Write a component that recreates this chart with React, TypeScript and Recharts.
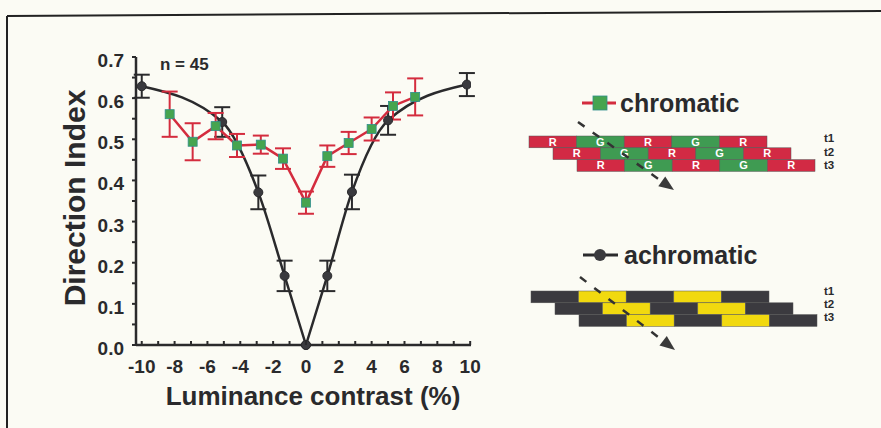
import React from "react";
import { LineChart, Line, XAxis, YAxis, ErrorBar } from "recharts";

// achromatic (black circles, smooth fit)
const achroX = [-10, -5.1, -2.9, -1.3, 0, 1.3, 2.8, 5.0, 9.8];
const achroY = [0.629, 0.542, 0.371, 0.168, 0, 0.168, 0.372, 0.546, 0.633];
const achroErr = [0.028, 0.036, 0.041, 0.037, 0, 0.037, 0.042, 0.035, 0.028];

// chromatic (green squares, red line)
const chromX = [-8.3, -6.9, -5.5, -4.2, -2.75, -1.4, 0, 1.3, 2.6, 4.0, 5.3, 6.65];
const chromY = [0.561, 0.494, 0.532, 0.485, 0.487, 0.453, 0.346, 0.459, 0.491, 0.525, 0.581, 0.603];
const chromErr = [0.055, 0.045, 0.032, 0.028, 0.022, 0.025, 0.027, 0.026, 0.027, 0.028, 0.033, 0.045];

const xTicks = [-10, -9, -8, -7, -6, -5, -4, -3, -2, -1, 0, 1, 2, 3, 4, 5, 6, 7, 8, 9, 10];
const yTicks = [0, 0.05, 0.1, 0.15, 0.2, 0.25, 0.3, 0.35, 0.4, 0.45, 0.5, 0.55, 0.6, 0.65, 0.7];

const chromaticRows = [
  ["R", "G", "R", "G", "R"],
  ["R", "G", "R", "G", "R"],
  ["R", "G", "R", "G", "R"],
];
const achromaticRows = [
  ["D", "Y", "D", "Y", "D"],
  ["D", "Y", "D", "Y", "D"],
  ["D", "Y", "D", "Y", "D"],
];
const rowLabels = ["t1", "t2", "t3"];

const FONT = "'Liberation Sans', Arial, sans-serif";
const INK = "#2a2a2c";
const RED = "#d42c3e";
const GREEN = "#46a44f";

const toRows = (xs: number[], ys: number[], es: number[]) =>
  xs.map((x, i) => ({ x, y: ys[i], err: es[i] }));

const achroAll = toRows(achroX, achroY, achroErr);
const achroLeft = achroAll.slice(0, 5);
const achroRight = achroAll.slice(4);
const chromData = toRows(chromX, chromY, chromErr);

const SquareDot = (props: any) => {
  const { cx, cy, index } = props;
  if (cx == null || cy == null) return null;
  return (
    <rect key={`sq-${index}`} x={cx - 4.5} y={cy - 4.5} width={9} height={9}
      fill={GREEN} stroke="#2f8f8c" strokeWidth={0.8} />
  );
};

const CircleDot = (props: any) => {
  const { cx, cy, index } = props;
  if (cx == null || cy == null) return null;
  return <circle key={`c-${index}`} cx={cx} cy={cy} r={4.5} fill="#3a3a3e" stroke={INK} strokeWidth={1} />;
};

const XTick = (props: any) => {
  const { x, y, payload } = props;
  const v = payload.value;
  const labelled = v % 2 === 0;
  return (
    <g>
      <line x1={x} x2={x} y1={y} y2={y - 4} stroke={INK} strokeWidth={2} />
      {labelled && (
        <text x={x} y={y + 28} textAnchor="middle" fontFamily={FONT} fontWeight="bold" fontSize={19} fill={INK}>
          {v}
        </text>
      )}
    </g>
  );
};

const YTick = (props: any) => {
  const { x, y, payload } = props;
  const v = payload.value;
  if (Math.round(v * 100) % 10 !== 0) return <g />;
  return (
    <text x={x} y={y + 10} textAnchor="end" fontFamily={FONT} fontWeight="bold" fontSize={19} fill={INK}>
      {v.toFixed(1)}
    </text>
  );
};

function Arrow({ x1, y1, x2, y2 }: { x1: number; y1: number; x2: number; y2: number }) {
  const dx = x2 - x1;
  const dy = y2 - y1;
  const len = Math.sqrt(dx * dx + dy * dy);
  const ux = dx / len;
  const uy = dy / len;
  const bx = x2 - ux * 15;
  const by = y2 - uy * 15;
  const px = -uy * 6;
  const py = ux * 6;
  return (
    <g>
      <line x1={x1} y1={y1} x2={bx} y2={by} stroke="#333" strokeWidth={2.5} strokeDasharray="8 10" />
      <polygon points={`${x2},${y2} ${bx + px},${by + py} ${bx - px},${by - py}`} fill="#3a3a3a" />
    </g>
  );
}

function Stripes({ rows, left, top, colors, letters, labelTop, labelStep }: any) {
  const segW = 47.6;
  const rowH = 11.8;
  return (
    <g>
      {rows.map((row: string[], i: number) => {
        const x0 = left + i * 24;
        const y0 = top + i * rowH;
        return (
          <g key={i}>
            {row.map((c, j) => (
              <g key={j}>
                <rect x={x0 + j * segW} y={y0} width={segW} height={rowH} fill={colors[c]} stroke="#555" strokeWidth={0.5} />
                {letters && (
                  <text x={x0 + j * segW + segW / 2} y={y0 + 9.5} textAnchor="middle" fontFamily={FONT}
                    fontWeight="bold" fontSize={11} fill="#fff">
                    {c}
                  </text>
                )}
              </g>
            ))}
          </g>
        );
      })}
      {rowLabels.map((t, i) => (
        <text key={t} x={824} y={labelTop + i * labelStep} fontFamily={FONT} fontWeight="bold" fontSize={11.5} fill={INK}>
          {t}
        </text>
      ))}
    </g>
  );
}

export default function App() {
  return (
    <div style={{ position: "absolute", left: 0, top: 0, width: 881, height: 428, background: "#fbfbf4", overflow: "hidden" }}>
      <div style={{ position: "absolute", left: 0, top: 0 }}>
        <LineChart width={490} height={428} margin={{ top: 57, right: 19, left: 0, bottom: 53 }}>
          <XAxis
            type="number"
            dataKey="x"
            domain={[-10.35, 10.05]}
            ticks={xTicks}
            interval={0}
            allowDataOverflow
            height={30}
            tickSize={0}
            tickMargin={0}
            tickLine={false}
            tick={<XTick />}
            axisLine={{ stroke: INK, strokeWidth: 2.5 }}
          />
          <YAxis
            type="number"
            dataKey="y"
            domain={[0, 0.7]}
            ticks={yTicks}
            interval={0}
            width={136}
            tickSize={4}
            tickMargin={8}
            tickLine={{ stroke: INK, strokeWidth: 2 }}
            tick={<YTick />}
            axisLine={{ stroke: INK, strokeWidth: 2.5 }}
          />
          <Line data={achroLeft} dataKey="y" type="monotone" stroke={INK} strokeWidth={2.5}
            dot={<CircleDot />} activeDot={false} isAnimationActive={false}>
            <ErrorBar dataKey="err" direction="y" width={8} stroke={INK} strokeWidth={2} />
          </Line>
          <Line data={achroRight} dataKey="y" type="monotone" stroke={INK} strokeWidth={2.5}
            dot={<CircleDot />} activeDot={false} isAnimationActive={false}>
            <ErrorBar dataKey="err" direction="y" width={8} stroke={INK} strokeWidth={2} />
          </Line>
          <Line data={chromData} dataKey="y" type="linear" stroke={RED} strokeWidth={2.5}
            dot={<SquareDot />} activeDot={false} isAnimationActive={false}>
            <ErrorBar dataKey="err" direction="y" width={8} stroke={RED} strokeWidth={2} />
          </Line>
        </LineChart>
      </div>
      <svg width={881} height={428} style={{ position: "absolute", left: 0, top: 0, pointerEvents: "none" }}>
        {/* frame */}
        <line x1={7} y1={16} x2={881} y2={11} stroke="#222" strokeWidth={2} />
        <line x1={7} y1={16} x2={7} y2={428} stroke="#222" strokeWidth={2} />

        <text x={160} y={70} fontFamily={FONT} fontWeight="bold" fontSize={17} fill={INK}>n = 45</text>
        <text x={313} y={405} textAnchor="middle" fontFamily={FONT} fontWeight="bold" fontSize={26} fill={INK}>
          Luminance contrast (%)
        </text>
        <text x={85} y={198} textAnchor="middle" transform="rotate(-90 85 198)" fontFamily={FONT} fontWeight="bold"
          fontSize={30} fill={INK}>
          Direction Index
        </text>

        {/* chromatic legend + stimulus */}
        <line x1={582} y1={103} x2={616} y2={103} stroke={RED} strokeWidth={3} />
        <rect x={593} y={96} width={14} height={14} fill={GREEN} stroke="#2f8f8c" strokeWidth={0.8} />
        <text x={620} y={112} fontFamily={FONT} fontWeight="bold" fontSize={25} fill={INK}>chromatic</text>
        <Stripes rows={chromaticRows} left={529} top={136} colors={{ R: "#d22a44", G: "#3f9b52" }} letters
          labelTop={142} labelStep={13.5} />
        <Arrow x1={578} y1={122} x2={674} y2={190} />

        {/* achromatic legend + stimulus */}
        <line x1={583} y1={255} x2={618} y2={255} stroke={INK} strokeWidth={3} />
        <circle cx={600} cy={255} r={6} fill="#3a3a3e" />
        <text x={624} y={264} fontFamily={FONT} fontWeight="bold" fontSize={25} fill={INK}>achromatic</text>
        <Stripes rows={achromaticRows} left={531} top={291} colors={{ D: "#3b3a3f", Y: "#f1d90f" }}
          labelTop={295} labelStep={13} />
        <Arrow x1={580} y1={277} x2={675} y2={350} />
      </svg>
    </div>
  );
}
